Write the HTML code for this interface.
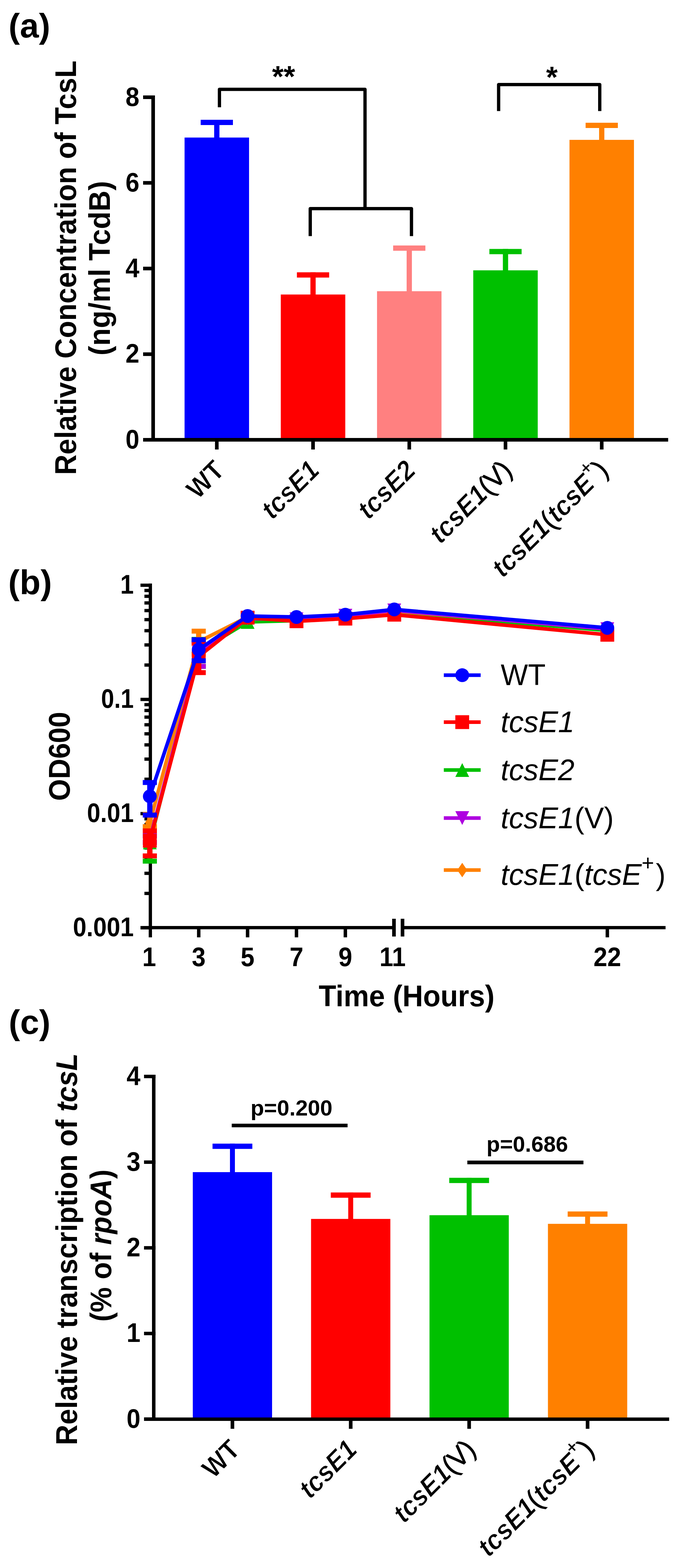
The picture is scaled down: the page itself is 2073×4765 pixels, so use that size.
<!DOCTYPE html>
<html><head><meta charset="utf-8"><title>Figure</title>
<style>html,body{margin:0;padding:0;background:#fff;overflow:hidden;} svg{display:block;}</style></head>
<body>
<svg width="2073" height="4765" viewBox="0 0 2073 4765" font-family="Liberation Sans, Arial, sans-serif">
<rect width="2073" height="4765" fill="#fff"/>
<text transform="translate(26.1,114.4)" font-size="103.5" font-weight="bold" font-style="normal" text-anchor="start" fill="#000">(a)</text>
<rect x="561.0" y="418.0" width="196.0" height="918.5" fill="#0000FF"/>
<rect x="651.0" y="364.0" width="16.0" height="55.0" fill="#0000FF"/>
<rect x="610.0" y="364.0" width="98.0" height="16.0" fill="#0000FF"/>
<rect x="853.5" y="895.0" width="196.0" height="441.5" fill="#FF0000"/>
<rect x="943.5" y="827.5" width="16.0" height="68.5" fill="#FF0000"/>
<rect x="902.5" y="827.5" width="98.0" height="16.0" fill="#FF0000"/>
<rect x="1146.0" y="885.0" width="196.0" height="451.5" fill="#FF8080"/>
<rect x="1236.0" y="746.0" width="16.0" height="140.0" fill="#FF8080"/>
<rect x="1195.0" y="746.0" width="98.0" height="16.0" fill="#FF8080"/>
<rect x="1438.5" y="821.5" width="196.0" height="515.0" fill="#00C000"/>
<rect x="1528.5" y="756.5" width="16.0" height="66.0" fill="#00C000"/>
<rect x="1487.5" y="756.5" width="98.0" height="16.0" fill="#00C000"/>
<rect x="1731.0" y="425.0" width="196.0" height="911.5" fill="#FF8000"/>
<rect x="1821.0" y="373.0" width="16.0" height="53.0" fill="#FF8000"/>
<rect x="1780.0" y="373.0" width="98.0" height="16.0" fill="#FF8000"/>
<rect x="460.0" y="290.0" width="11.0" height="1052.0" fill="#000"/>
<rect x="435.0" y="1331.0" width="36.0" height="11.0" fill="#000"/>
<text transform="translate(423.7,1362.5) scale(0.925,1)" font-size="82" font-weight="bold" font-style="normal" text-anchor="end" fill="#000">0</text>
<rect x="435.0" y="1070.8" width="36.0" height="11.0" fill="#000"/>
<text transform="translate(423.7,1102.2) scale(0.925,1)" font-size="82" font-weight="bold" font-style="normal" text-anchor="end" fill="#000">2</text>
<rect x="435.0" y="810.5" width="36.0" height="11.0" fill="#000"/>
<text transform="translate(423.7,842.0) scale(0.925,1)" font-size="82" font-weight="bold" font-style="normal" text-anchor="end" fill="#000">4</text>
<rect x="435.0" y="550.2" width="36.0" height="11.0" fill="#000"/>
<text transform="translate(423.7,581.8) scale(0.925,1)" font-size="82" font-weight="bold" font-style="normal" text-anchor="end" fill="#000">6</text>
<rect x="435.0" y="290.0" width="36.0" height="11.0" fill="#000"/>
<text transform="translate(423.7,321.5) scale(0.925,1)" font-size="82" font-weight="bold" font-style="normal" text-anchor="end" fill="#000">8</text>
<rect x="435.0" y="1331.0" width="1596.0" height="11.0" fill="#000"/>
<rect x="653.5" y="1336.0" width="11.0" height="30.0" fill="#000"/>
<rect x="946.0" y="1336.0" width="11.0" height="30.0" fill="#000"/>
<rect x="1238.5" y="1336.0" width="11.0" height="30.0" fill="#000"/>
<rect x="1531.0" y="1336.0" width="11.0" height="30.0" fill="#000"/>
<rect x="1823.5" y="1336.0" width="11.0" height="30.0" fill="#000"/>
<path d="M943,717.4 V634 H1250.7 V717.4 M667,326 V271.6 H1109.5 V634 M1515.6,337.4 V257 H1823 V337.4" fill="none" stroke="#000" stroke-width="10" stroke-linejoin="round"/>
<text transform="translate(862.0,264.0)" font-size="90" font-weight="bold" font-style="normal" text-anchor="middle" fill="#000">**</text>
<text transform="translate(1677.5,266.0)" font-size="90" font-weight="bold" font-style="normal" text-anchor="middle" fill="#000">*</text>
<text transform="translate(230.5,813.6) rotate(-90) scale(0.951,1)" font-size="90.4" font-weight="bold" font-style="normal" text-anchor="middle" fill="#000">Relative Concentration of TcsL</text>
<text transform="translate(334.2,815.0) rotate(-90) scale(0.972,1)" font-size="90.4" font-weight="bold" font-style="normal" text-anchor="middle" fill="#000">(ng/ml TcdB)</text>
<text transform="translate(687.0,1434.0) rotate(-45) scale(0.950,1)" font-size="82.5" font-weight="bold" font-style="normal" text-anchor="end" fill="#000" stroke="#fff" stroke-width="1.4">WT</text>
<text transform="translate(975.5,1434.0) rotate(-45) scale(0.950,1)" font-size="82.5" font-weight="bold" font-style="normal" text-anchor="end" fill="#000" stroke="#fff" stroke-width="1.4"><tspan font-style="italic">tcsE1</tspan></text>
<text transform="translate(1268.0,1434.0) rotate(-45) scale(0.950,1)" font-size="82.5" font-weight="bold" font-style="normal" text-anchor="end" fill="#000" stroke="#fff" stroke-width="1.4"><tspan font-style="italic">tcsE2</tspan></text>
<text transform="translate(1560.5,1434.0) rotate(-45) scale(0.950,1)" font-size="82.5" font-weight="bold" font-style="normal" text-anchor="end" fill="#000" stroke="#fff" stroke-width="1.4"><tspan font-style="italic">tcsE1</tspan><tspan font-weight="normal" stroke="#000" stroke-width="1.6">(V)</tspan></text>
<text transform="translate(1853.0,1434.0) rotate(-45) scale(0.950,1)" font-size="82.5" font-weight="bold" font-style="normal" text-anchor="end" fill="#000" stroke="#fff" stroke-width="1.4"><tspan font-style="italic">tcsE1</tspan><tspan font-weight="normal" stroke="#000" stroke-width="1.6">(</tspan><tspan font-style="italic">tcsE</tspan><tspan font-size="58" dy="-40">+</tspan><tspan font-weight="normal" stroke="#000" stroke-width="1.6" dy="40">)</tspan></text>
<text transform="translate(25.1,1805.3)" font-size="104" font-weight="bold" font-style="normal" text-anchor="start" fill="#000">(b)</text>
<rect x="452.0" y="1773.5" width="10.0" height="1075.0" fill="#000"/>
<rect x="427.0" y="1773.5" width="35.0" height="10.0" fill="#000"/>
<rect x="427.0" y="2120.5" width="35.0" height="10.0" fill="#000"/>
<rect x="427.0" y="2467.5" width="35.0" height="10.0" fill="#000"/>
<rect x="427.0" y="2814.5" width="35.0" height="10.0" fill="#000"/>
<rect x="439.0" y="2016.0" width="23.0" height="10.0" fill="#000"/>
<rect x="439.0" y="1954.9" width="23.0" height="10.0" fill="#000"/>
<rect x="439.0" y="1911.6" width="23.0" height="10.0" fill="#000"/>
<rect x="439.0" y="1878.0" width="23.0" height="10.0" fill="#000"/>
<rect x="439.0" y="1850.5" width="23.0" height="10.0" fill="#000"/>
<rect x="439.0" y="1827.3" width="23.0" height="10.0" fill="#000"/>
<rect x="439.0" y="1807.1" width="23.0" height="10.0" fill="#000"/>
<rect x="439.0" y="1789.4" width="23.0" height="10.0" fill="#000"/>
<rect x="439.0" y="2363.0" width="23.0" height="10.0" fill="#000"/>
<rect x="439.0" y="2301.9" width="23.0" height="10.0" fill="#000"/>
<rect x="439.0" y="2258.6" width="23.0" height="10.0" fill="#000"/>
<rect x="439.0" y="2225.0" width="23.0" height="10.0" fill="#000"/>
<rect x="439.0" y="2197.5" width="23.0" height="10.0" fill="#000"/>
<rect x="439.0" y="2174.3" width="23.0" height="10.0" fill="#000"/>
<rect x="439.0" y="2154.1" width="23.0" height="10.0" fill="#000"/>
<rect x="439.0" y="2136.4" width="23.0" height="10.0" fill="#000"/>
<rect x="439.0" y="2710.0" width="23.0" height="10.0" fill="#000"/>
<rect x="439.0" y="2648.9" width="23.0" height="10.0" fill="#000"/>
<rect x="439.0" y="2605.6" width="23.0" height="10.0" fill="#000"/>
<rect x="439.0" y="2572.0" width="23.0" height="10.0" fill="#000"/>
<rect x="439.0" y="2544.5" width="23.0" height="10.0" fill="#000"/>
<rect x="439.0" y="2521.3" width="23.0" height="10.0" fill="#000"/>
<rect x="439.0" y="2501.1" width="23.0" height="10.0" fill="#000"/>
<rect x="439.0" y="2483.4" width="23.0" height="10.0" fill="#000"/>
<rect x="427.0" y="2814.0" width="776.0" height="10.0" fill="#000"/>
<rect x="1218.0" y="2814.0" width="805.0" height="10.0" fill="#000"/>
<rect x="1192.0" y="2792.0" width="11.0" height="54.0" fill="#000"/>
<rect x="1218.0" y="2792.0" width="11.0" height="54.0" fill="#000"/>
<rect x="598.8" y="2819.0" width="10.5" height="29.5" fill="#000"/>
<rect x="747.3" y="2819.0" width="10.5" height="29.5" fill="#000"/>
<rect x="895.9" y="2819.0" width="10.5" height="29.5" fill="#000"/>
<rect x="1044.5" y="2819.0" width="10.5" height="29.5" fill="#000"/>
<rect x="1840.8" y="2819.0" width="10.5" height="29.5" fill="#000"/>
<text transform="translate(406.5,1804.0) scale(0.900,1)" font-size="82" font-weight="bold" font-style="normal" text-anchor="end" fill="#000">1</text>
<text transform="translate(406.5,2151.0) scale(0.870,1)" font-size="82" font-weight="bold" font-style="normal" text-anchor="end" fill="#000">0.1</text>
<text transform="translate(406.5,2498.0) scale(0.890,1)" font-size="82" font-weight="bold" font-style="normal" text-anchor="end" fill="#000">0.01</text>
<text transform="translate(406.5,2845.0) scale(0.900,1)" font-size="82" font-weight="bold" font-style="normal" text-anchor="end" fill="#000">0.001</text>
<text transform="translate(453.4,2936.0) scale(0.920,1)" font-size="82" font-weight="bold" font-style="normal" text-anchor="middle" fill="#000">1</text>
<text transform="translate(604.0,2936.0) scale(0.920,1)" font-size="82" font-weight="bold" font-style="normal" text-anchor="middle" fill="#000">3</text>
<text transform="translate(752.6,2936.0) scale(0.920,1)" font-size="82" font-weight="bold" font-style="normal" text-anchor="middle" fill="#000">5</text>
<text transform="translate(901.2,2936.0) scale(0.920,1)" font-size="82" font-weight="bold" font-style="normal" text-anchor="middle" fill="#000">7</text>
<text transform="translate(1049.8,2936.0) scale(0.920,1)" font-size="82" font-weight="bold" font-style="normal" text-anchor="middle" fill="#000">9</text>
<text transform="translate(1193.4,2936.0) scale(0.920,1)" font-size="82" font-weight="bold" font-style="normal" text-anchor="middle" fill="#000">11</text>
<text transform="translate(1846.0,2936.0) scale(0.920,1)" font-size="82" font-weight="bold" font-style="normal" text-anchor="middle" fill="#000">22</text>
<text transform="translate(212.0,2298.4) rotate(-90) scale(0.938,1)" font-size="91" font-weight="bold" font-style="normal" text-anchor="middle" fill="#000">OD600</text>
<text transform="translate(1236.0,3057.8) scale(0.955,1)" font-size="91" font-weight="bold" font-style="normal" text-anchor="middle" fill="#000">Time (Hours)</text>
<polyline points="455.4,2560.0 604.0,1980.0 752.6,1890.0 901.2,1886.0 1049.8,1878.0 1198.4,1862.0 1846.0,1916.0" fill="none" stroke="#00C000" stroke-width="11" stroke-linejoin="miter"/>
<rect x="447.4" y="2540.0" width="16.0" height="77.0" fill="#00C000"/>
<rect x="433.9" y="2532.5" width="43.0" height="15.0" fill="#00C000"/>
<rect x="433.9" y="2609.5" width="43.0" height="15.0" fill="#00C000"/>
<rect x="596.0" y="1943.0" width="16.0" height="82.0" fill="#00C000"/>
<rect x="582.5" y="1935.5" width="43.0" height="15.0" fill="#00C000"/>
<rect x="582.5" y="2017.5" width="43.0" height="15.0" fill="#00C000"/>
<polygon points="434.4,2581.0 476.4,2581.0 455.4,2539.0" fill="#00C000"/>
<polygon points="583.0,2001.0 625.0,2001.0 604.0,1959.0" fill="#00C000"/>
<polygon points="731.6,1911.0 773.6,1911.0 752.6,1869.0" fill="#00C000"/>
<polygon points="880.2,1907.0 922.2,1907.0 901.2,1865.0" fill="#00C000"/>
<polygon points="1028.8,1899.0 1070.8,1899.0 1049.8,1857.0" fill="#00C000"/>
<polygon points="1177.4,1883.0 1219.4,1883.0 1198.4,1841.0" fill="#00C000"/>
<polygon points="1825.0,1937.0 1867.0,1937.0 1846.0,1895.0" fill="#00C000"/>
<polyline points="455.4,2500.0 604.0,1950.0 752.6,1875.0 901.2,1880.0 1049.8,1872.0 1198.4,1857.0 1846.0,1910.0" fill="none" stroke="#FF8000" stroke-width="11" stroke-linejoin="miter"/>
<rect x="447.4" y="2475.0" width="16.0" height="37.0" fill="#FF8000"/>
<rect x="433.9" y="2467.5" width="43.0" height="15.0" fill="#FF8000"/>
<rect x="433.9" y="2504.5" width="43.0" height="15.0" fill="#FF8000"/>
<rect x="596.0" y="1918.0" width="16.0" height="70.0" fill="#FF8000"/>
<rect x="582.5" y="1910.5" width="43.0" height="15.0" fill="#FF8000"/>
<rect x="582.5" y="1980.5" width="43.0" height="15.0" fill="#FF8000"/>
<polygon points="455.4,2478.0 470.4,2500.0 455.4,2522.0 440.4,2500.0" fill="#FF8000"/>
<polygon points="604.0,1928.0 619.0,1950.0 604.0,1972.0 589.0,1950.0" fill="#FF8000"/>
<polygon points="752.6,1853.0 767.6,1875.0 752.6,1897.0 737.6,1875.0" fill="#FF8000"/>
<polygon points="901.2,1858.0 916.2,1880.0 901.2,1902.0 886.2,1880.0" fill="#FF8000"/>
<polygon points="1049.8,1850.0 1064.8,1872.0 1049.8,1894.0 1034.8,1872.0" fill="#FF8000"/>
<polygon points="1198.4,1835.0 1213.4,1857.0 1198.4,1879.0 1183.4,1857.0" fill="#FF8000"/>
<polygon points="1846.0,1888.0 1861.0,1910.0 1846.0,1932.0 1831.0,1910.0" fill="#FF8000"/>
<polyline points="455.4,2550.0 604.0,1985.0 752.6,1880.0 901.2,1882.0 1049.8,1871.0 1198.4,1855.0 1846.0,1912.0" fill="none" stroke="#AE00E0" stroke-width="11" stroke-linejoin="miter"/>
<rect x="447.4" y="2540.0" width="16.0" height="20.0" fill="#AE00E0"/>
<rect x="433.9" y="2532.5" width="43.0" height="15.0" fill="#AE00E0"/>
<rect x="433.9" y="2552.5" width="43.0" height="15.0" fill="#AE00E0"/>
<rect x="596.0" y="1950.0" width="16.0" height="75.0" fill="#AE00E0"/>
<rect x="582.5" y="1942.5" width="43.0" height="15.0" fill="#AE00E0"/>
<rect x="582.5" y="2017.5" width="43.0" height="15.0" fill="#AE00E0"/>
<polygon points="434.4,2529.0 476.4,2529.0 455.4,2571.0" fill="#AE00E0"/>
<polygon points="583.0,1964.0 625.0,1964.0 604.0,2006.0" fill="#AE00E0"/>
<polygon points="731.6,1859.0 773.6,1859.0 752.6,1901.0" fill="#AE00E0"/>
<polygon points="880.2,1861.0 922.2,1861.0 901.2,1903.0" fill="#AE00E0"/>
<polygon points="1028.8,1850.0 1070.8,1850.0 1049.8,1892.0" fill="#AE00E0"/>
<polygon points="1177.4,1834.0 1219.4,1834.0 1198.4,1876.0" fill="#AE00E0"/>
<polygon points="1825.0,1891.0 1867.0,1891.0 1846.0,1933.0" fill="#AE00E0"/>
<polyline points="455.4,2555.0 604.0,1995.0 752.6,1877.0 901.2,1888.0 1049.8,1880.0 1198.4,1868.0 1846.0,1929.0" fill="none" stroke="#FF0000" stroke-width="11" stroke-linejoin="miter"/>
<rect x="447.4" y="2525.0" width="16.0" height="76.0" fill="#FF0000"/>
<rect x="433.9" y="2517.5" width="43.0" height="15.0" fill="#FF0000"/>
<rect x="433.9" y="2593.5" width="43.0" height="15.0" fill="#FF0000"/>
<rect x="596.0" y="1955.0" width="16.0" height="89.0" fill="#FF0000"/>
<rect x="582.5" y="1947.5" width="43.0" height="15.0" fill="#FF0000"/>
<rect x="582.5" y="2036.5" width="43.0" height="15.0" fill="#FF0000"/>
<rect x="434.4" y="2534.0" width="42.0" height="42.0" fill="#FF0000"/>
<rect x="583.0" y="1974.0" width="42.0" height="42.0" fill="#FF0000"/>
<rect x="731.6" y="1856.0" width="42.0" height="42.0" fill="#FF0000"/>
<rect x="880.2" y="1867.0" width="42.0" height="42.0" fill="#FF0000"/>
<rect x="1028.8" y="1859.0" width="42.0" height="42.0" fill="#FF0000"/>
<rect x="1177.4" y="1847.0" width="42.0" height="42.0" fill="#FF0000"/>
<rect x="1825.0" y="1908.0" width="42.0" height="42.0" fill="#FF0000"/>
<polyline points="455.4,2420.0 604.0,1974.0 752.6,1872.0 901.2,1875.0 1049.8,1868.0 1198.4,1852.0 1846.0,1908.0" fill="none" stroke="#0000FF" stroke-width="11" stroke-linejoin="miter"/>
<rect x="447.4" y="2378.0" width="16.0" height="99.0" fill="#0000FF"/>
<rect x="433.9" y="2370.5" width="43.0" height="15.0" fill="#0000FF"/>
<rect x="433.9" y="2469.5" width="43.0" height="15.0" fill="#0000FF"/>
<rect x="596.0" y="1944.0" width="16.0" height="64.0" fill="#0000FF"/>
<rect x="582.5" y="1936.5" width="43.0" height="15.0" fill="#0000FF"/>
<rect x="582.5" y="2000.5" width="43.0" height="15.0" fill="#0000FF"/>
<circle cx="455.4" cy="2420.0" r="21" fill="#0000FF"/>
<circle cx="604.0" cy="1974.0" r="21" fill="#0000FF"/>
<circle cx="752.6" cy="1872.0" r="21" fill="#0000FF"/>
<circle cx="901.2" cy="1875.0" r="21" fill="#0000FF"/>
<circle cx="1049.8" cy="1868.0" r="21" fill="#0000FF"/>
<circle cx="1198.4" cy="1852.0" r="21" fill="#0000FF"/>
<circle cx="1846.0" cy="1908.0" r="21" fill="#0000FF"/>
<rect x="1349.0" y="2046.3" width="112.0" height="11.0" fill="#0000FF"/>
<circle cx="1405.0" cy="2051.8" r="21" fill="#0000FF"/>
<text transform="translate(1522.0,2082.3) scale(0.964,1)" font-size="91" font-weight="normal" font-style="normal" text-anchor="start" fill="#000">WT</text>
<rect x="1349.0" y="2189.0" width="112.0" height="11.0" fill="#FF0000"/>
<rect x="1384.0" y="2173.5" width="42.0" height="42.0" fill="#FF0000"/>
<text transform="translate(1522.0,2225.0) scale(0.985,1)" font-size="91" font-weight="normal" font-style="normal" text-anchor="start" fill="#000"><tspan font-style="italic">tcsE1</tspan></text>
<rect x="1349.0" y="2334.5" width="112.0" height="11.0" fill="#00C000"/>
<polygon points="1384.0,2361.0 1426.0,2361.0 1405.0,2319.0" fill="#00C000"/>
<text transform="translate(1522.0,2370.5) scale(0.985,1)" font-size="91" font-weight="normal" font-style="normal" text-anchor="start" fill="#000"><tspan font-style="italic">tcsE2</tspan></text>
<rect x="1349.0" y="2480.5" width="112.0" height="11.0" fill="#AE00E0"/>
<polygon points="1384.0,2465.0 1426.0,2465.0 1405.0,2507.0" fill="#AE00E0"/>
<text transform="translate(1522.0,2516.5) scale(0.985,1)" font-size="91" font-weight="normal" font-style="normal" text-anchor="start" fill="#000"><tspan font-style="italic">tcsE1</tspan>(V)</text>
<rect x="1349.0" y="2638.5" width="112.0" height="11.0" fill="#FF8000"/>
<polygon points="1405.0,2622.0 1420.0,2644.0 1405.0,2666.0 1390.0,2644.0" fill="#FF8000"/>
<text transform="translate(1522.0,2688.6) scale(0.985,1)" font-size="91" font-weight="normal" font-style="normal" text-anchor="start" fill="#000"><tspan font-style="italic">tcsE1</tspan>(<tspan font-style="italic">tcsE</tspan><tspan font-size="66" dy="-43.4">+</tspan><tspan dx="5" dy="43.4">)</tspan></text>
<text transform="translate(26.6,3142.0)" font-size="103.7" font-weight="bold" font-style="normal" text-anchor="start" fill="#000">(c)</text>
<rect x="586.0" y="3562.0" width="241.0" height="750.7" fill="#0000FF"/>
<rect x="699.0" y="3475.4" width="15.0" height="87.6" fill="#0000FF"/>
<rect x="646.0" y="3475.4" width="121.0" height="16.0" fill="#0000FF"/>
<rect x="945.5" y="3704.2" width="241.0" height="608.5" fill="#FF0000"/>
<rect x="1058.5" y="3623.8" width="15.0" height="81.4" fill="#FF0000"/>
<rect x="1005.5" y="3623.8" width="121.0" height="16.0" fill="#FF0000"/>
<rect x="1305.5" y="3692.9" width="241.0" height="619.8" fill="#00C000"/>
<rect x="1418.5" y="3579.2" width="15.0" height="114.7" fill="#00C000"/>
<rect x="1365.5" y="3579.2" width="121.0" height="16.0" fill="#00C000"/>
<rect x="1665.5" y="3719.1" width="241.0" height="593.6" fill="#FF8000"/>
<rect x="1778.5" y="3681.5" width="15.0" height="38.6" fill="#FF8000"/>
<rect x="1725.5" y="3681.5" width="121.0" height="16.0" fill="#FF8000"/>
<rect x="462.0" y="3266.0" width="10.6" height="1052.0" fill="#000"/>
<rect x="437.8" y="4307.4" width="34.8" height="10.5" fill="#000"/>
<text transform="translate(427.0,4338.7) scale(0.925,1)" font-size="82" font-weight="bold" font-style="normal" text-anchor="end" fill="#000">0</text>
<rect x="437.8" y="4047.1" width="34.8" height="10.5" fill="#000"/>
<text transform="translate(427.0,4078.3) scale(0.925,1)" font-size="82" font-weight="bold" font-style="normal" text-anchor="end" fill="#000">1</text>
<rect x="437.8" y="3786.8" width="34.8" height="10.5" fill="#000"/>
<text transform="translate(427.0,3818.0) scale(0.925,1)" font-size="82" font-weight="bold" font-style="normal" text-anchor="end" fill="#000">2</text>
<rect x="437.8" y="3526.4" width="34.8" height="10.5" fill="#000"/>
<text transform="translate(427.0,3557.6) scale(0.925,1)" font-size="82" font-weight="bold" font-style="normal" text-anchor="end" fill="#000">3</text>
<rect x="437.8" y="3266.0" width="34.8" height="10.5" fill="#000"/>
<text transform="translate(427.0,3297.3) scale(0.925,1)" font-size="82" font-weight="bold" font-style="normal" text-anchor="end" fill="#000">4</text>
<rect x="438.0" y="4307.6" width="1596.0" height="10.4" fill="#000"/>
<rect x="701.0" y="4312.0" width="11.0" height="30.0" fill="#000"/>
<rect x="1060.5" y="4312.0" width="11.0" height="30.0" fill="#000"/>
<rect x="1420.5" y="4312.0" width="11.0" height="30.0" fill="#000"/>
<rect x="1780.5" y="4312.0" width="11.0" height="30.0" fill="#000"/>
<rect x="704.4" y="3414.8" width="352.1" height="10.9" fill="#000"/>
<rect x="1420.5" y="3526.9" width="352.9" height="11.3" fill="#000"/>
<text transform="translate(886.0,3390.4)" font-size="67.4" font-weight="bold" font-style="normal" text-anchor="middle" fill="#000">p=0.200</text>
<text transform="translate(1602.6,3500.0)" font-size="67" font-weight="bold" font-style="normal" text-anchor="middle" fill="#000">p=0.686</text>
<text transform="translate(234.1,3796.3) rotate(-90) scale(0.956,1)" font-size="90.4" font-weight="bold" font-style="normal" text-anchor="middle" fill="#000">Relative transcription of <tspan font-style="italic">tcsL</tspan></text>
<text transform="translate(337.8,3785.3) rotate(-90) scale(0.950,1)" font-size="90.4" font-weight="bold" font-style="normal" text-anchor="middle" fill="#000">(% of <tspan font-style="italic">rpoA</tspan>)</text>
<text transform="translate(734.5,4410.0) rotate(-45) scale(0.950,1)" font-size="82.5" font-weight="bold" font-style="normal" text-anchor="end" fill="#000" stroke="#fff" stroke-width="1.4">WT</text>
<text transform="translate(1090.0,4410.0) rotate(-45) scale(0.950,1)" font-size="82.5" font-weight="bold" font-style="normal" text-anchor="end" fill="#000" stroke="#fff" stroke-width="1.4"><tspan font-style="italic">tcsE1</tspan></text>
<text transform="translate(1450.0,4410.0) rotate(-45) scale(0.950,1)" font-size="82.5" font-weight="bold" font-style="normal" text-anchor="end" fill="#000" stroke="#fff" stroke-width="1.4"><tspan font-style="italic">tcsE1</tspan><tspan font-weight="normal" stroke="#000" stroke-width="1.6">(V)</tspan></text>
<text transform="translate(1810.0,4410.0) rotate(-45) scale(0.950,1)" font-size="82.5" font-weight="bold" font-style="normal" text-anchor="end" fill="#000" stroke="#fff" stroke-width="1.4"><tspan font-style="italic">tcsE1</tspan><tspan font-weight="normal" stroke="#000" stroke-width="1.6">(</tspan><tspan font-style="italic">tcsE</tspan><tspan font-size="58" dy="-40">+</tspan><tspan font-weight="normal" stroke="#000" stroke-width="1.6" dy="40">)</tspan></text>
</svg>
</body></html>
